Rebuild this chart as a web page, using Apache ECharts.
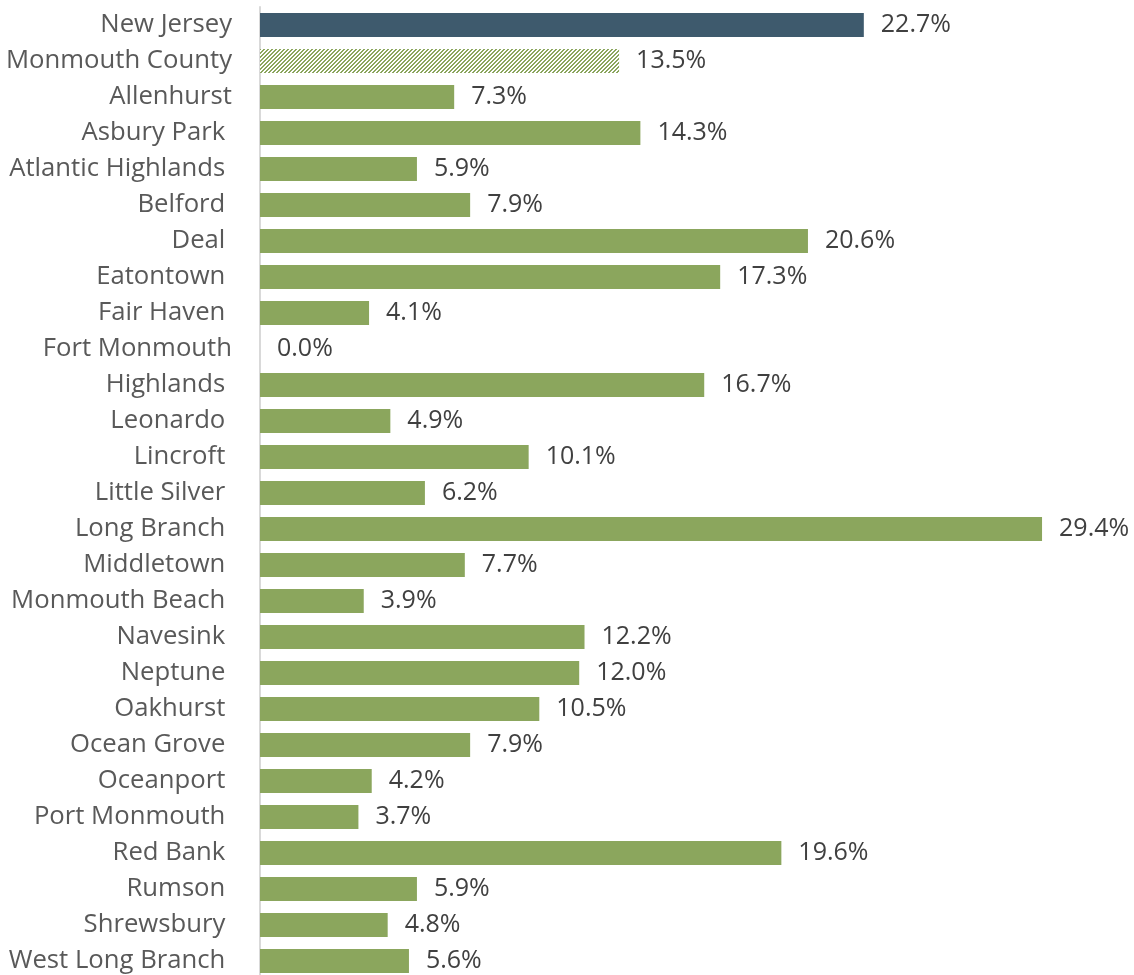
<!DOCTYPE html>
<html>
<head>
<meta charset="utf-8">
<script src="https://cdn.jsdelivr.net/npm/echarts@6/dist/echarts.min.js"></script>
<style>
  html, body { margin: 0; padding: 0; background: #ffffff; overflow: hidden; }
  #chart { width: 1134px; height: 980px; }
</style>
</head>
<body>
<div id="chart"></div>
<script>
// Places, top to bottom
const places = [
  'New Jersey', 'Monmouth County', 'Allenhurst', 'Asbury Park ', 'Atlantic Highlands ',
  'Belford ', 'Deal ', 'Eatontown ', 'Fair Haven ', 'Fort Monmouth', 'Highlands ',
  'Leonardo ', 'Lincroft ', 'Little Silver ', 'Long Branch ', 'Middletown ',
  'Monmouth Beach ', 'Navesink ', 'Neptune ', 'Oakhurst ', 'Ocean Grove ',
  'Oceanport ', 'Port Monmouth ', 'Red Bank ', 'Rumson ', 'Shrewsbury ', 'West Long Branch '
];

// Percentage for each place
const shares = [
  22.7, 13.5, 7.3, 14.3, 5.9,
  7.9, 20.6, 17.3, 4.1, 0.0, 16.7,
  4.9, 10.1, 6.2, 29.4, 7.7,
  3.9, 12.2, 12.0, 10.5, 7.9,
  4.2, 3.7, 19.6, 5.9, 4.8, 5.6
];

const STATE_COLOR = '#3e5a6d';
const TOWN_COLOR = '#8ba65d';

// Diagonal hatch used for the county bar
function hatchPattern() {
  const c = document.createElement('canvas');
  c.width = 4; c.height = 4;
  const ctx = c.getContext('2d');
  ctx.fillStyle = '#ffffff';
  ctx.fillRect(0, 0, 4, 4);
  ctx.fillStyle = TOWN_COLOR;
  for (let x = 0; x < 4; x++) {
    for (let y = 0; y < 4; y++) {
      if ((x + y) % 4 < 2) ctx.fillRect(x, y, 1, 1);
    }
  }
  return { image: c, repeat: 'repeat' };
}

const hatch = hatchPattern();

const seriesData = shares.map((v, i) => {
  let color = TOWN_COLOR;
  if (i === 0) color = STATE_COLOR;
  else if (i === 1) color = hatch;
  return { value: v, itemStyle: { color: color } };
});

const chart = echarts.init(document.getElementById('chart'));
chart.setOption({
  animation: false,
  backgroundColor: '#ffffff',
  grid: { left: 260, right: 76, top: 7, height: 972, containLabel: false },
  xAxis: {
    type: 'value',
    min: 0,
    max: 30,
    show: false
  },
  yAxis: {
    type: 'category',
    inverse: true,
    data: places,
    axisLine: { show: true, lineStyle: { color: '#d9d9d9', width: 2 } },
    axisTick: { show: false },
    axisLabel: {
      margin: 28,
      color: '#595959',
      fontFamily: 'Open Sans',
      fontSize: 25.7,
      padding: [5, 0, 0, 0]
    }
  },
  series: [{
    type: 'bar',
    data: seriesData,
    barWidth: 24,
    label: {
      show: true,
      position: 'right',
      distance: 17,
      color: '#404040',
      fontFamily: 'Open Sans',
      fontSize: 25,
      padding: [5, 0, 0, 0],
      formatter: p => p.value.toFixed(1) + '%'
    }
  }]
});
</script>
</body>
</html>
